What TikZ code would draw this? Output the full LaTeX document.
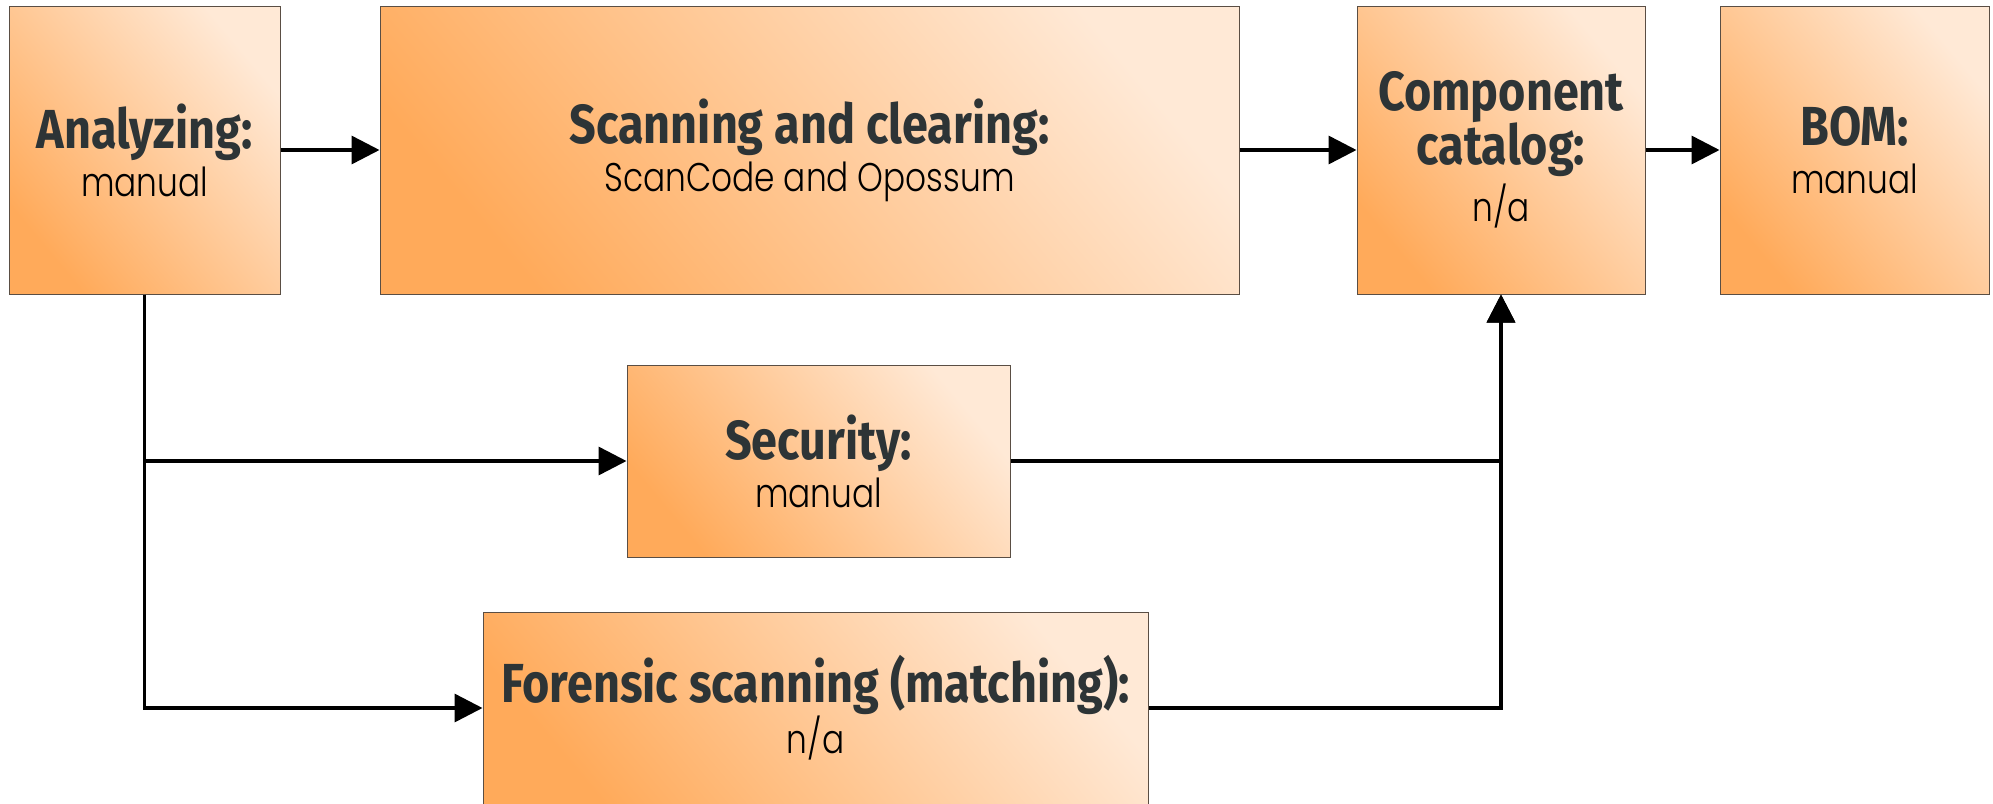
\documentclass[tikz,border=0pt]{standalone}
\usepackage{fontspec}
\usetikzlibrary{arrows.meta}
\newfontfamily\headfont{Fira Sans}[FakeStretch=0.85]
\newfontfamily\subfont{Poppins Light}[FakeStretch=0.82]
\definecolor{boxdark}{HTML}{FFAA5A}
\definecolor{boxlight}{HTML}{FFE9D6}
\definecolor{headgray}{HTML}{2D3436}
\definecolor{boxedge}{HTML}{5A4E44}
\newcommand{\hd}[1]{{\headfont\bfseries\color{headgray}\fontsize{55}{48}\selectfont #1}}
\newcommand{\sub}[1]{{\subfont\fontsize{40}{48}\selectfont #1}}
\begin{document}
\begin{tikzpicture}[x=1pt,y=-1pt,
  stage/.style={draw=boxedge, line width=1pt, rectangle, align=center,
    bottom color=boxdark, top color=boxlight, shading angle=-50,
    inner sep=0pt, anchor=center, font=\fontsize{40}{48}\selectfont},
  flow/.style={line width=3.5pt, -{Triangle[length=28pt,width=28pt]}}]
\useasboundingbox (0,0) rectangle (1993,803);

\node[stage, minimum width=271pt, minimum height=288pt] (ana) at (144.5,150)
  {\hd{Analyzing:}\\\sub{manual}};
\node[stage, minimum width=859pt, minimum height=288pt] (scan) at (809.5,150)
  {\hd{Scanning and clearing:}\\\sub{ScanCode and Opossum}};
\node[stage, minimum width=288pt, minimum height=288pt] (comp) at (1501,150)
  {\hd{Component}\\[-1pt]\hd{catalog:}\\[6pt]\sub{n/a}};
\node[stage, minimum width=269pt, minimum height=288pt] (bom) at (1854.5,150)
  {\hd{BOM:}\\\sub{manual}};
\node[stage, minimum width=383pt, minimum height=192pt] (sec) at (818.5,461)
  {\hd{Security:}\\\sub{manual}};
\node[stage, minimum width=665pt, minimum height=192pt] (for) at (815.5,708)
  {\hd{Forensic scanning (matching):}\\\sub{n/a}};

\draw[flow] (ana.east) -- (scan.west);
\draw[flow] (scan.east) -- (comp.west);
\draw[flow] (comp.east) -- (bom.west);
\draw[flow] (ana.south) |- (sec.west);
\draw[flow] (ana.south) |- (for.west);
\draw[flow] (sec.east) -| (comp.south);
\draw[flow] (for.east) -| (comp.south);
\end{tikzpicture}
\end{document}
